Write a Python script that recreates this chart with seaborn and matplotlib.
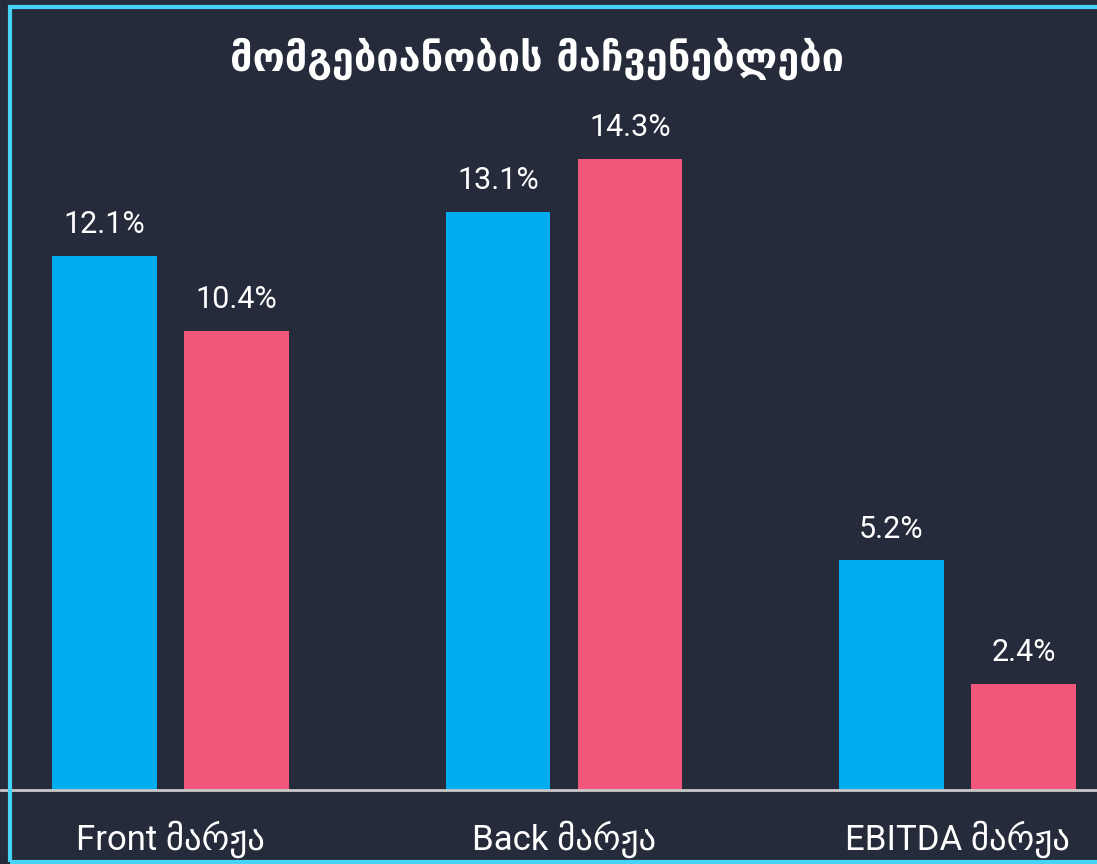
import pandas as pd
import numpy as np
import seaborn as sns
import matplotlib.pyplot as plt
from matplotlib.patches import Rectangle

kategoriebi = ['Front მარჟა', 'Back მარჟა', 'EBITDA მარჟა']
seriebi = ['სერია 1', 'სერია 2']
seria_1 = [12.1, 13.1, 5.2]
seria_2 = [10.4, 14.3, 2.4]

satauri = 'მომგებიანობის მაჩვენებლები'

df = pd.DataFrame({
    'კატეგორია': kategoriebi * 2,
    'სერია': [seriebi[0]] * 3 + [seriebi[1]] * 3,
    'მნიშვნელობა': seria_1 + seria_2,
})

fon = '#252b3a'
lurji = '#00aeef'
vardisferi = '#f0577a'

sns.set_style('white')
shrifti = ['Roboto', 'DejaVu Sans']

fig = plt.figure(figsize=(10.97, 8.64), dpi=100, facecolor=fon)
ax = fig.add_axes([0, 74 / 864, 1, 790 / 864])
ax.set_facecolor('none')

sns.barplot(data=df, x='კატეგორია', y='მნიშვნელობა', hue='სერია',
            palette=[lurji, vardisferi], width=0.671, gap=0.21,
            saturation=1, legend=False, linewidth=0, ax=ax)

ax.set_xlim(-170.5 / 393.5, (1097 - 170.5) / 393.5)
ax.set_ylim(0, 790 / 44.15)

for cont in ax.containers:
    ax.bar_label(cont, labels=[f'{b.get_height():.1f}%' for b in cont],
                 padding=12, fontsize=22, color='white', family=shrifti)

for s in ax.spines.values():
    s.set_visible(False)
ax.set_yticks([])
ax.set_xlabel('')
ax.set_ylabel('')
ax.tick_params(axis='x', length=0, pad=22, colors='white')
for lbl in ax.get_xticklabels():
    lbl.set_fontsize(25)
    lbl.set_family(shrifti)

ax.axhline(0, color='#c9c9c9', lw=2, clip_on=False, zorder=5)

fig.patches.append(Rectangle((10 / 1097, 2 / 864), 1.2, 855 / 864,
                             transform=fig.transFigure, fill=False,
                             edgecolor='#45d3f7', lw=3))

fig.text(537 / 1097, 1 - 59 / 864, satauri, ha='center', va='center',
         fontsize=28.5, fontweight='bold', color='white', family='DejaVu Sans')

fig.savefig('out.png', dpi=100, facecolor=fon)
